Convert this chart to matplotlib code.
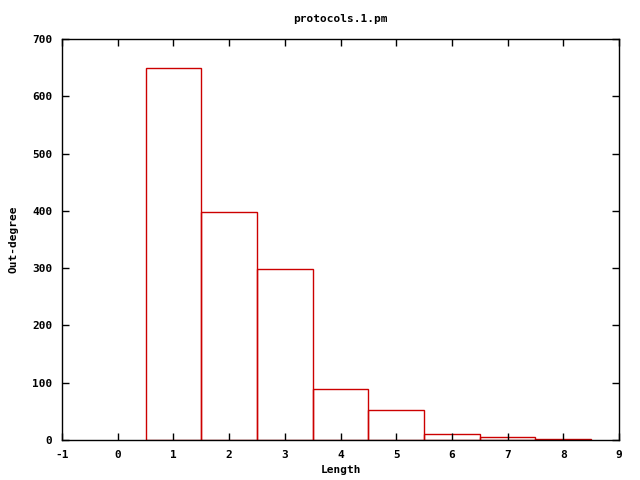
import matplotlib
matplotlib.use('Agg')
import matplotlib.pyplot as plt

# histogram of path lengths
lengths = [1, 2, 3, 4, 5, 6, 7, 8]
counts = [650, 398, 298, 89, 52, 10, 5, 2]

plt.rcParams['font.family'] = 'DejaVu Sans Mono'
plt.rcParams['font.weight'] = 'bold'
plt.rcParams['font.size'] = 8
plt.rcParams['axes.unicode_minus'] = False

fig = plt.figure(figsize=(6.4, 4.8), dpi=100)
ax = fig.add_axes([62/640, 40/480, (619-62)/640, (440-39)/480])

ax.bar(lengths, counts, width=1.0, fill=False, edgecolor='#cc0000', linewidth=1.0)

ax.set_xlim(-1, 9)
ax.set_ylim(0, 700)
ax.set_xticks(range(-1, 10))
ax.set_yticks(range(0, 701, 100))
ax.tick_params(direction='in', top=True, right=True, length=5, width=1, pad=7)
for s in ax.spines.values():
    s.set_linewidth(1)

ax.set_title('protocols.1.pm', fontsize=8, fontweight='bold', pad=12)
ax.set_xlabel('Length', fontweight='bold', labelpad=4)
ax.set_ylabel('Out-degree', fontweight='bold', labelpad=10)

fig.savefig('out.png', dpi=100)
